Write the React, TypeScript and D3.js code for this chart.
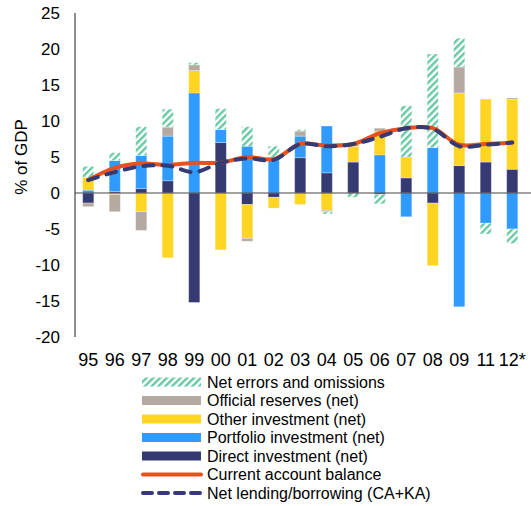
import React from "react";
import * as d3 from "d3";

// years on the x axis (no 2010 in the source)
const categories = ["95", "96", "97", "98", "99", "00", "01", "02", "03", "04", "05", "06", "07", "08", "09", "11", "12*"];

// financial account components, % of GDP
const directInv = [-1.4, 0.2, 0.6, 1.7, -15.2, 7.0, -1.6, -0.6, 4.9, 2.8, 4.3, -0.2, 2.1, -1.4, 3.8, 4.3, 3.3];
const portfolioInv = [0.4, 4.3, 4.6, 6.2, 13.9, 1.8, 6.5, 4.6, 3.0, 6.5, 0, 5.3, -3.3, 6.3, -15.8, -4.2, -5.0];
const otherInv = [1.8, -0.2, -2.6, -9.0, 3.1, -7.9, -4.7, -1.5, -1.6, -2.4, 2.2, 3.3, 2.9, -8.7, 10.1, 8.75, 9.7];
const reserves = [-0.5, -2.4, -2.6, 1.25, 0.8, 0, -0.4, 0.3, 0.7, -0.2, 0.3, 0.4, 0, 0, 3.6, 0, 0.2];
const errors = [1.5, 1.1, 4.0, 2.5, 0.3, 2.9, 2.7, 1.6, 0.2, -0.3, -0.6, -1.3, 7.1, 13.0, 4.0, -1.5, -2.0];

// lines
const currentAccount = [1.8, 3.5, 4.1, 3.9, 4.2, 4.2, 5.0, 4.7, 6.8, 6.6, 6.8, 8.3, 9.0, 9.0, 6.7, 6.8, 7.0];
const netLending = [1.8, 2.9, 3.7, 3.8, 2.9, 4.2, 4.8, 4.6, 6.8, 6.5, 6.8, 7.8, 9.0, 8.9, 6.5, 6.7, 7.0];

const yTicks = [25, 20, 15, 10, 5, 0, -5, -10, -15, -20];

const keys = ["direct", "portfolio", "other", "reserves", "errors"];
const fills: Record<string, string> = {
  direct: "#353b72",
  portfolio: "#309bff",
  other: "#ffd523",
  reserves: "#b4aaa1",
  errors: "url(#hatch)",
};

const W = 531;
const H = 506;
const left = 75;
const right = 525.5;
const top = 13;
const bottom = 337;

export default function App() {
  const rows = categories.map((c, i) => ({
    cat: c,
    direct: directInv[i],
    portfolio: portfolioInv[i],
    other: otherInv[i],
    reserves: reserves[i],
    errors: errors[i],
  }));

  const x = d3.scaleBand().domain(categories).range([left, right]).paddingInner(0.58).paddingOuter(0.29);
  const y = d3.scaleLinear().domain([-20, 25]).range([bottom, top]);

  const series = d3.stack<any>().keys(keys).offset(d3.stackOffsetDiverging)(rows);

  const cx = (c: string) => (x(c) as number) + x.bandwidth() / 2;
  const line = d3
    .line<number>()
    .x((_, i) => cx(categories[i]))
    .y((d) => y(d))
    .curve(d3.curveCatmullRom.alpha(0.5));

  const font = "'Liberation Sans', Arial, sans-serif";

  const legend = [
    { label: "Net errors and omissions", kind: "rect", fill: "url(#hatch)" },
    { label: "Official reserves (net)", kind: "rect", fill: fills.reserves },
    { label: "Other investment (net)", kind: "rect", fill: fills.other },
    { label: "Portfolio investment (net)", kind: "rect", fill: fills.portfolio },
    { label: "Direct investment (net)", kind: "rect", fill: fills.direct },
    { label: "Current account balance", kind: "line", fill: "#e8501c" },
    { label: "Net lending/borrowing (CA+KA)", kind: "dash", fill: "#353b72" },
  ];

  return (
    <svg width={W} height={H} style={{ position: "absolute", left: 0, top: 0, background: "#fff" }} fontFamily={font}>
      <defs>
        <pattern id="hatch" width="4.8" height="4.8" patternUnits="userSpaceOnUse" patternTransform="rotate(45)">
          <rect width="4.8" height="4.8" fill="#fff" />
          <rect x="0" y="0" width="2.4" height="4.8" fill="#66c9a2" />
        </pattern>
      </defs>

      {/* bars */}
      {series.map((s) => (
        <g key={s.key} fill={fills[s.key]}>
          {s.map((d, i) =>
            d[1] - d[0] === 0 ? null : (
              <rect
                key={i}
                x={x(categories[i])}
                y={y(Math.max(d[0], d[1]))}
                width={x.bandwidth()}
                height={Math.abs(y(d[0]) - y(d[1]))}
                stroke="#ffffff"
                strokeOpacity={0.35}
                strokeWidth={0.8}
              />
            )
          )}
        </g>
      ))}

      {/* axes */}
      <line x1={left} x2={W} y1={y(0)} y2={y(0)} stroke="#444" strokeWidth={1.2} />
      <line x1={left} x2={left} y1={top} y2={bottom} stroke="#444" strokeWidth={1.2} />
      {yTicks.map((t) => (
        <text key={t} x={60} y={y(t)} dy="0.35em" textAnchor="end" fontSize={17} fill="#000">
          {t}
        </text>
      ))}
      {categories.map((c) => (
        <text key={c} x={cx(c)} y={366} textAnchor="middle" fontSize={18} fill="#000">
          {c}
        </text>
      ))}
      <text transform="translate(27,157) rotate(-90)" textAnchor="middle" fontSize={17} fill="#000">
        % of GDP
      </text>

      {/* lines */}
      <path d={line(currentAccount) || ""} fill="none" stroke="#e8501c" strokeWidth={4} strokeLinecap="round" strokeLinejoin="round" />
      <path
        d={line(netLending) || ""}
        fill="none"
        stroke="#353b72"
        strokeWidth={4}
        strokeDasharray="10 9"
        strokeLinecap="round"
        strokeLinejoin="round"
      />

      {/* legend */}
      {legend.map((l, i) => {
        const ly = 382 + i * 18.5;
        return (
          <g key={l.label}>
            {l.kind === "rect" && <rect x={142} y={ly - 4.5} width={59} height={9} fill={l.fill} />}
            {l.kind === "line" && (
              <line x1={143} x2={201} y1={ly} y2={ly} stroke={l.fill} strokeWidth={4} strokeLinecap="round" />
            )}
            {l.kind === "dash" && (
              <line x1={143} x2={201} y1={ly} y2={ly} stroke={l.fill} strokeWidth={4} strokeLinecap="round" strokeDasharray="9 7" />
            )}
            <text x={207} y={ly} dy="0.35em" fontSize={16} fill="#000">
              {l.label}
            </text>
          </g>
        );
      })}
    </svg>
  );
}
